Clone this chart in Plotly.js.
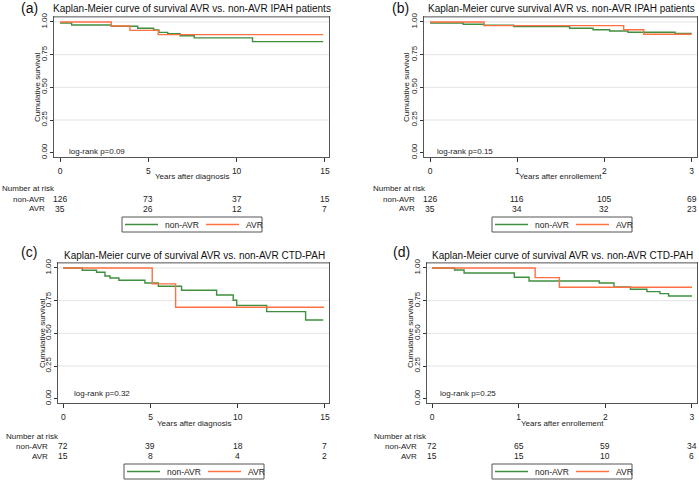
<!DOCTYPE html>
<html>
<head>
<meta charset="utf-8">
<script src="https://cdn.plot.ly/plotly-3.0.1.min.js"></script>
<style>html,body{margin:0;padding:0;background:#fff;}#chart{width:699px;height:481px;}</style>
</head>
<body>
<div id="chart"></div>
<script>
// ---- Data ----
const seriesNames = ["non-AVR", "AVR"];
const panelLetters = ["(a)", "(b)", "(c)", "(d)"];
const panelTitles = [
  "Kaplan-Meier curve of survival AVR vs. non-AVR IPAH patients",
  "Kaplan-Meier curve survival AVR vs. non-AVR IPAH patients",
  "Kaplan-Meier curve of survival AVR vs. non-AVR CTD-PAH",
  "Kaplan-Meier curve of survival AVR vs. non-AVR CTD-PAH"
];
const xTitles = ["Years after diagnosis", "Years after enrollement", "Years after diagnosis", "Years after enrollement"];
const logRank = ["log-rank p=0.09", "log-rank p=0.15", "log-rank p=0.32", "log-rank p=0.25"];

const ticksDiag = [0, 5, 10, 15];
const ticksEnrol = [0, 1, 2, 3];
const yTicks = [0, 0.25, 0.5, 0.75, 1];
const yTickText = ["0.00", "0.25", "0.50", "0.75", "1.00"];

// Panel (a)
const aNonT = [0, 0.66, 2.9, 4.4, 5.3, 5.6, 6.1, 6.8, 7.6, 10.9, 14.9];
const aNonS = [0.992, 0.977, 0.967, 0.952, 0.939, 0.92, 0.91, 0.895, 0.878, 0.85, 0.85];
const aAvrT = [0, 2.9, 3.96, 5.56, 14.9];
const aAvrS = [1.0, 0.969, 0.936, 0.903, 0.903];
// Panel (b)
const bNonT = [0, 0.38, 0.62, 0.96, 1.6, 1.87, 2.06, 2.27, 2.81, 3.0];
const bNonS = [0.992, 0.982, 0.975, 0.964, 0.952, 0.941, 0.931, 0.921, 0.913, 0.913];
const bAvrT = [0, 0.62, 2.22, 2.45, 3.0];
const bAvrS = [1.0, 0.972, 0.941, 0.906, 0.906];
// Panel (c)
const cNonT = [0, 1.09, 1.91, 2.39, 2.68, 3.19, 4.68, 5.45, 6.78, 8.79, 9.74, 9.94, 11.66, 13.89, 14.9];
const cNonS = [1.0, 0.982, 0.967, 0.939, 0.923, 0.906, 0.885, 0.86, 0.829, 0.793, 0.753, 0.714, 0.666, 0.602, 0.602];
const cAvrT = [0, 5.1, 6.44, 14.94];
const cAvrS = [1.0, 0.878, 0.70, 0.70];
// Panel (d)
const dNonT = [0, 0.26, 0.37, 0.95, 1.12, 1.93, 2.10, 2.29, 2.48, 2.63, 2.73, 3.0];
const dNonS = [1.0, 0.985, 0.962, 0.929, 0.90, 0.885, 0.855, 0.837, 0.819, 0.804, 0.786, 0.786];
const dAvrT = [0, 1.19, 1.47, 3.0];
const dAvrS = [1.0, 0.926, 0.852, 0.852];

// Number at risk
const aRiskNon = [126, 73, 37, 15];
const aRiskAvr = [35, 26, 12, 7];
const bRiskNon = [126, 116, 105, 69];
const bRiskAvr = [35, 34, 32, 23];
const cRiskNon = [72, 39, 18, 7];
const cRiskAvr = [15, 8, 4, 2];
const dRiskNon = [72, 65, 59, 34];
const dRiskAvr = [15, 15, 10, 6];

// ---- Styling / layout ----
const W = 699, H = 481;
const GREEN = "#3f8f3f", ORANGE = "#ff7043";
const SERIES_COLORS = [GREEN, ORANGE];
const FONT = "Liberation Sans Narrow, Arial Narrow, Liberation Sans, Arial, sans-serif";
const SMALL = 8;
const px = v => v / W;
const py = v => 1 - v / H;

const panels = [
  {ax: "", T: [aNonT, aNonS, aAvrT, aAvrS], risk: [aRiskNon, aRiskAvr], ticks: ticksDiag,
   xd: [54, 329], yd: [17, 157], xr: [-0.34, 15.23]},
  {ax: "2", T: [bNonT, bNonS, bAvrT, bAvrS], risk: [bRiskNon, bRiskAvr], ticks: ticksEnrol,
   xd: [424, 697], yd: [17, 157], xr: [-0.069, 3.061]},
  {ax: "3", T: [cNonT, cNonS, cAvrT, cAvrS], risk: [cRiskNon, cRiskAvr], ticks: ticksDiag,
   xd: [58, 329], yd: [263, 403], xr: [-0.30, 15.23]},
  {ax: "4", T: [dNonT, dNonS, dAvrT, dAvrS], risk: [dRiskNon, dRiskAvr], ticks: ticksEnrol,
   xd: [427, 697], yd: [263, 403], xr: [-0.058, 3.058]}
];
// text / legend positions (pixels) per panel; legend box = [left, top, bottom]
const textPos = [
  {letter: [29, 8], title: [192, 9], ytitle: 38, logr: [67, 151], nar: [0, 189], rowR: 47, rows: [199, 209], xtitle: 177, legend: [122, 217, 232]},
  {letter: [400, 8], title: [561, 9], ytitle: 407, logr: [435, 151], nar: [371, 189], rowR: 417, rows: [199, 209], xtitle: 177, legend: [492, 217, 232]},
  {letter: [29, 252], title: [194, 255], ytitle: 42, logr: [72, 393], nar: [4, 436], rowR: 50, rows: [446, 456], xtitle: 423, legend: [124, 464, 479]},
  {letter: [401, 252], title: [562, 255], ytitle: 410, logr: [438, 393], nar: [372, 436], rowR: 419, rows: [446, 456], xtitle: 423, legend: [492, 464, 479]}
];
const LEG_W = 140;
const LEG_LINES = [[3, 36], [84, 117]];   // offsets of the sample lines from the box's left edge
const LEG_TEXT = [41, 122];              // offsets of the labels

const traces = [];
const layout = {
  width: W, height: H,
  margin: {l: 0, r: 0, t: 0, b: 0},
  paper_bgcolor: "#fff", plot_bgcolor: "#fff",
  font: {family: FONT, size: SMALL, color: "#222"},
  showlegend: false,
  annotations: [], shapes: []
};

panels.forEach((p, i) => {
  const xa = "x" + p.ax, ya = "y" + p.ax;
  for (let s = 0; s < 2; s++) {
    traces.push({
      type: "scatter", mode: "lines",
      x: p.T[2 * s], y: p.T[2 * s + 1],
      line: {shape: "hv", color: SERIES_COLORS[s], width: 1.4},
      name: seriesNames[s], xaxis: xa, yaxis: ya, hoverinfo: "skip"
    });
  }
  layout["xaxis" + p.ax] = {
    domain: [px(p.xd[0]), px(p.xd[1])], range: p.xr, anchor: ya,
    tickvals: p.ticks, ticktext: p.ticks.map(String), ticks: "outside", ticklen: 4, ticklabelstandoff: 2,
    tickcolor: "#333", tickfont: {size: SMALL + 0.5, family: FONT, color: "#222"},
    showgrid: false, zeroline: false, showline: true, linecolor: "#555", linewidth: 1, mirror: true,
    fixedrange: true
  };
  layout["yaxis" + p.ax] = {
    domain: [py(p.yd[1]), py(p.yd[0])], range: [-0.033, 1.038], anchor: xa,
    tickvals: yTicks, ticktext: yTickText, ticks: "outside", ticklen: 3, tickangle: -90,
    tickcolor: "#333", tickfont: {size: SMALL, family: FONT, color: "#222"},
    showgrid: false, zeroline: false, showline: true, linecolor: "#555", linewidth: 1, mirror: true,
    fixedrange: true
  };
  // gridlines (skip zero)
  yTicks.slice(1).forEach(v => {
    layout.shapes.push({type: "line", xref: xa + " domain", yref: ya, x0: 0, x1: 1, y0: v, y1: v,
      line: {color: "#e3e3e3", width: 1}, layer: "below"});
  });
  // lighter top frame edge
  layout.shapes.push({type: "line", xref: xa + " domain", yref: ya + " domain", x0: 0, x1: 1, y0: 1, y1: 1,
    line: {color: "#a8a8a8", width: 1.5}});

  const t = textPos[i];
  const A = layout.annotations;
  const f = (size, color) => ({family: FONT, size: size, color: color || "#222"});
  A.push({text: panelLetters[i], xref: "paper", yref: "paper", x: px(t.letter[0]), y: py(t.letter[1]),
    xanchor: "center", yanchor: "middle", showarrow: false, font: {family: "Liberation Sans, Arial, sans-serif", size: 14, color: "#111"}});
  A.push({text: panelTitles[i], xref: "paper", yref: "paper", x: px(t.title[0]), y: py(t.title[1]),
    xanchor: "center", yanchor: "middle", showarrow: false, font: f(10, "#111")});
  A.push({text: "Cumulative survival", xref: "paper", yref: ya + " domain", x: px(t.ytitle), y: 0.5,
    textangle: -90, xanchor: "center", yanchor: "middle", showarrow: false, font: f(SMALL)});
  A.push({text: logRank[i], xref: "paper", yref: "paper", x: px(t.logr[0]), y: py(t.logr[1]),
    xanchor: "left", yanchor: "middle", showarrow: false, font: f(SMALL)});
  A.push({text: xTitles[i], xref: xa + " domain", yref: "paper", x: 0.5, y: py(t.xtitle),
    xanchor: "center", yanchor: "middle", showarrow: false, font: f(SMALL)});
  A.push({text: "Number at risk", xref: "paper", yref: "paper", x: px(t.nar[0]), y: py(t.nar[1]),
    xanchor: "left", yanchor: "middle", showarrow: false, font: f(SMALL)});
  for (let s = 0; s < 2; s++) {
    A.push({text: seriesNames[s], xref: "paper", yref: "paper", x: px(t.rowR), y: py(t.rows[s]),
      xanchor: "right", yanchor: "middle", showarrow: false, font: f(SMALL)});
    p.risk[s].forEach((n, k) => {
      A.push({text: String(n), xref: xa, yref: "paper", x: p.ticks[k], y: py(t.rows[s]),
        xanchor: "center", yanchor: "middle", showarrow: false, font: f(SMALL + 0.5)});
    });
  }
  // legend box (drawn per panel, like the reference)
  const L = t.legend[0], T0 = t.legend[1], B0 = t.legend[2], mid = (T0 + B0) / 2;
  layout.shapes.push({type: "rect", xref: "paper", yref: "paper", x0: px(L), x1: px(L + LEG_W), y0: py(B0), y1: py(T0),
    line: {color: "#555", width: 1}, fillcolor: "#fff"});
  for (let s = 0; s < 2; s++) {
    layout.shapes.push({type: "line", xref: "paper", yref: "paper",
      x0: px(L + LEG_LINES[s][0]), x1: px(L + LEG_LINES[s][1]), y0: py(mid), y1: py(mid),
      line: {color: SERIES_COLORS[s], width: 1.4}});
    A.push({text: seriesNames[s], xref: "paper", yref: "paper", x: px(L + LEG_TEXT[s]), y: py(mid),
      xanchor: "left", yanchor: "middle", showarrow: false, font: f(SMALL + 0.5)});
  }
});

Plotly.newPlot("chart", traces, layout, {displayModeBar: false, staticPlot: true});
</script>
</body>
</html>
